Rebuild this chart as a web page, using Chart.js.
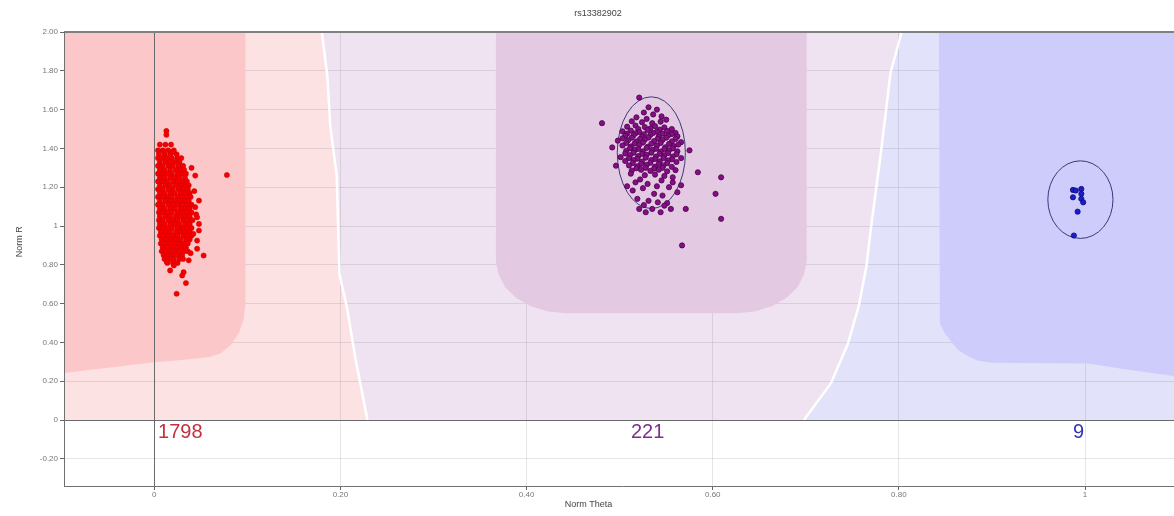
<!DOCTYPE html>
<html>
<head>
<meta charset="utf-8">
<script src="https://cdn.jsdelivr.net/npm/chart.js@4.4.1/dist/chart.umd.min.js"></script>
<style>
  html, body { margin: 0; padding: 0; overflow: hidden; background: #fff; }
  #wrap { width: 1196px; height: 516px; }
</style>
</head>
<body>
<div id="wrap"><canvas id="plot" width="1196" height="516"></canvas></div>
<script>
// ---- SNP cluster plot: rs13382902 ----
const snpName = 'rs13382902';
const xTickValues = [0, 0.2, 0.4, 0.6, 0.8, 1];
const yTickValues = [-0.2, 0, 0.2, 0.4, 0.6, 0.8, 1, 1.2, 1.4, 1.6, 1.8, 2.0];

// genotype call counts and where they are printed (Norm Theta)
const genotypeCounts = [1798, 221, 9];
const countThetas = [0.028, 0.530, 0.993];
const countR = -0.062;

// AA samples, grouped by Norm R row: [R, [Theta...]]
const aaRows = [
  [1.49, [0.013]], [1.47, [0.013]],
  [1.42, [0.006, 0.012, 0.018]],
  [1.39, [0.004, 0.009, 0.015, 0.021]],
  [1.37, [0.005, 0.011, 0.017, 0.024]],
  [1.35, [0.004, 0.009, 0.014, 0.019, 0.025, 0.029]],
  [1.33, [0.006, 0.012, 0.017, 0.022, 0.027]],
  [1.31, [0.004, 0.009, 0.015, 0.020, 0.026, 0.031]],
  [1.29, [0.006, 0.011, 0.017, 0.023, 0.028, 0.032]],
  [1.27, [0.004, 0.009, 0.014, 0.019, 0.025, 0.030, 0.034]],
  [1.25, [0.006, 0.011, 0.017, 0.022, 0.027, 0.033]],
  [1.23, [0.004, 0.009, 0.014, 0.020, 0.025, 0.030, 0.035]],
  [1.21, [0.006, 0.012, 0.017, 0.023, 0.028, 0.033, 0.037]],
  [1.19, [0.004, 0.009, 0.015, 0.020, 0.026, 0.031, 0.036]],
  [1.17, [0.006, 0.011, 0.017, 0.022, 0.028, 0.033, 0.038]],
  [1.15, [0.004, 0.009, 0.014, 0.019, 0.025, 0.030, 0.035, 0.039]],
  [1.13, [0.006, 0.012, 0.017, 0.022, 0.027, 0.032, 0.037]],
  [1.11, [0.004, 0.009, 0.015, 0.020, 0.025, 0.030, 0.035, 0.040]],
  [1.09, [0.006, 0.011, 0.017, 0.022, 0.028, 0.033, 0.038]],
  [1.07, [0.005, 0.009, 0.014, 0.019, 0.025, 0.030, 0.035, 0.040]],
  [1.05, [0.006, 0.012, 0.017, 0.023, 0.028, 0.033, 0.038]],
  [1.03, [0.005, 0.009, 0.015, 0.020, 0.025, 0.031, 0.036, 0.041]],
  [1.01, [0.006, 0.011, 0.017, 0.022, 0.027, 0.033, 0.038]],
  [0.99, [0.005, 0.010, 0.014, 0.019, 0.025, 0.030, 0.035, 0.040]],
  [0.97, [0.007, 0.012, 0.017, 0.023, 0.028, 0.033, 0.038]],
  [0.95, [0.006, 0.010, 0.015, 0.020, 0.025, 0.031, 0.036, 0.040]],
  [0.93, [0.008, 0.013, 0.018, 0.023, 0.028, 0.034, 0.038]],
  [0.91, [0.007, 0.011, 0.016, 0.021, 0.026, 0.031, 0.036]],
  [0.89, [0.009, 0.014, 0.019, 0.024, 0.029, 0.034]],
  [0.87, [0.008, 0.012, 0.017, 0.022, 0.027, 0.032, 0.036]],
  [0.85, [0.010, 0.015, 0.020, 0.025, 0.030]],
  [0.83, [0.011, 0.016, 0.021, 0.027, 0.031]],
  [0.81, [0.014, 0.020, 0.025]]
];
// AA samples lying away from the main row block: [Theta, R]
const aaOutliers = [
  [0.044, 1.260], [0.078, 1.263], [0.048, 1.131], [0.044, 1.097], [0.046, 1.045],
  [0.048, 1.011], [0.048, 0.977], [0.046, 0.925], [0.046, 0.883], [0.053, 0.848],
  [0.037, 0.823], [0.017, 0.771], [0.0315, 0.762], [0.030, 0.745], [0.034, 0.706],
  [0.024, 0.651], [0.021, 0.797], [0.0136, 0.814], [0.010, 1.388], [0.0197, 1.380],
  [0.040, 1.300], [0.043, 1.180], [0.045, 1.060], [0.042, 0.960], [0.039, 0.860]
];

// AB samples: [Theta, R]
const abPoints = [
  [0.521, 1.662], [0.531, 1.612], [0.540, 1.600], [0.526, 1.585], [0.536, 1.575],
  [0.545, 1.565], [0.518, 1.560], [0.529, 1.552], [0.550, 1.548], [0.513, 1.540],
  [0.524, 1.535], [0.535, 1.530], [0.544, 1.538], [0.481, 1.530],
  [0.508, 1.512], [0.517, 1.518], [0.527, 1.510], [0.538, 1.515], [0.548, 1.508], [0.556, 1.500],
  [0.520, 1.500], [0.533, 1.503], [0.543, 1.497],
  [0.503, 1.488], [0.512, 1.492], [0.521, 1.485], [0.530, 1.495], [0.540, 1.487], [0.551, 1.490], [0.560, 1.480],
  [0.508, 1.476], [0.517, 1.478], [0.526, 1.473], [0.536, 1.480], [0.546, 1.476], [0.556, 1.474],
  [0.506, 1.465], [0.515, 1.468], [0.524, 1.460], [0.533, 1.470], [0.542, 1.462], [0.552, 1.466], [0.562, 1.462],
  [0.503, 1.452], [0.513, 1.455], [0.522, 1.449], [0.531, 1.456], [0.541, 1.450], [0.550, 1.455], [0.560, 1.449],
  [0.498, 1.440], [0.509, 1.442], [0.518, 1.436], [0.527, 1.445], [0.537, 1.438], [0.546, 1.444], [0.556, 1.436], [0.566, 1.432],
  [0.507, 1.428], [0.516, 1.425], [0.525, 1.430], [0.534, 1.424], [0.544, 1.428], [0.553, 1.423], [0.563, 1.420],
  [0.492, 1.405], [0.503, 1.415], [0.512, 1.410], [0.521, 1.418], [0.530, 1.408], [0.540, 1.414], [0.549, 1.406], [0.558, 1.412], [0.575, 1.390],
  [0.511, 1.400], [0.520, 1.397], [0.529, 1.402], [0.539, 1.398], [0.548, 1.396], [0.557, 1.400],
  [0.507, 1.388], [0.516, 1.392], [0.525, 1.385], [0.535, 1.392], [0.544, 1.384], [0.553, 1.390], [0.562, 1.385],
  [0.506, 1.374], [0.515, 1.378], [0.524, 1.372], [0.534, 1.378], [0.543, 1.372], [0.552, 1.376], [0.561, 1.370],
  [0.501, 1.355], [0.511, 1.365], [0.520, 1.360], [0.529, 1.367], [0.539, 1.358], [0.548, 1.364], [0.557, 1.358], [0.566, 1.350],
  [0.510, 1.350], [0.519, 1.347], [0.528, 1.352], [0.538, 1.346], [0.547, 1.350], [0.556, 1.344],
  [0.506, 1.335], [0.515, 1.340], [0.524, 1.332], [0.534, 1.340], [0.543, 1.333], [0.552, 1.338], [0.561, 1.330],
  [0.514, 1.324], [0.523, 1.320], [0.533, 1.326], [0.542, 1.320], [0.551, 1.324],
  [0.496, 1.311], [0.510, 1.312], [0.519, 1.308], [0.529, 1.315], [0.538, 1.306], [0.547, 1.312], [0.556, 1.305],
  [0.518, 1.298], [0.528, 1.300], [0.537, 1.296], [0.546, 1.300],
  [0.513, 1.286], [0.523, 1.290], [0.533, 1.284], [0.542, 1.290], [0.551, 1.282], [0.560, 1.288],
  [0.512, 1.270], [0.527, 1.262], [0.538, 1.265], [0.548, 1.258], [0.557, 1.251], [0.584, 1.277],
  [0.609, 1.251], [0.517, 1.225], [0.530, 1.217], [0.557, 1.225], [0.545, 1.235], [0.522, 1.240],
  [0.514, 1.183], [0.537, 1.166], [0.546, 1.157], [0.562, 1.174], [0.519, 1.140], [0.541, 1.122],
  [0.551, 1.118], [0.531, 1.130], [0.603, 1.166], [0.571, 1.088], [0.555, 1.088], [0.544, 1.071],
  [0.535, 1.088], [0.528, 1.071], [0.521, 1.088], [0.609, 1.037], [0.567, 0.900], [0.525, 1.195],
  [0.553, 1.200], [0.540, 1.205], [0.566, 1.210], [0.508, 1.205], [0.548, 1.105], [0.526, 1.108]
];

// BB samples: [Theta, R]
const bbPoints = [
  [0.987, 1.186], [0.990, 1.183], [0.996, 1.191], [0.996, 1.166], [0.987, 1.148],
  [0.996, 1.140], [0.998, 1.122], [0.992, 1.074], [0.988, 0.951]
];

// cluster ellipses: centre and half-widths in Theta / R
const ellipseTheta = [0.534, 0.995];
const ellipseR = [1.378, 1.136];
const ellipseHalfTheta = [0.0366, 0.035];
const ellipseHalfR = [0.288, 0.200];

// call-region boundaries (Theta, R), drawn top to bottom
const aaAbBoundary = [[0.179, 2.1], [0.180, 2.0], [0.186, 1.77], [0.189, 1.52], [0.196, 1.26],
  [0.199, 0.75], [0.207, 0.58], [0.216, 0.32], [0.229, 0.0]];
const abBbBoundary = [[0.806, 2.1], [0.803, 2.0], [0.791, 1.79], [0.781, 1.39], [0.770, 0.99],
  [0.765, 0.79], [0.757, 0.59], [0.745, 0.39], [0.727, 0.19], [0.698, 0.0]];

// high-confidence cores of each call region
const aaCore = [[-0.2, 2.1], [0.098, 2.1], [0.098, 0.60], [0.096, 0.52], [0.091, 0.45], [0.083, 0.39],
  [0.072, 0.345], [0.060, 0.325], [0.030, 0.310], [0.0, 0.298], [-0.05, 0.27], [-0.097, 0.242], [-0.2, 0.2]];
const abCore = [[0.367, 2.1], [0.701, 2.1], [0.701, 0.82], [0.698, 0.75], [0.691, 0.685], [0.679, 0.629],
  [0.6635, 0.586], [0.645, 0.559], [0.626, 0.55], [0.442, 0.55], [0.423, 0.559], [0.4045, 0.586],
  [0.389, 0.629], [0.377, 0.685], [0.370, 0.75], [0.367, 0.82]];
const bbCore = [[0.843, 2.1], [1.2, 2.1], [1.2, 0.2], [1.097, 0.226], [1.043, 0.262], [1.003, 0.292],
  [0.90, 0.295], [0.885, 0.305], [0.874, 0.33], [0.864, 0.36], [0.857, 0.40], [0.849, 0.45], [0.844, 0.50]];

const toXY = p => ({ x: p[0], y: p[1] });
const aaData = aaRows.flatMap(([r, thetas]) => thetas.map(t => ({ x: t, y: r })))
  .concat(aaOutliers.map(toXY));

function tracePath(ctx, xs, ys, pts, close) {
  ctx.beginPath();
  pts.forEach(([t, r], i) => {
    const px = xs.getPixelForValue(t), py = ys.getPixelForValue(r);
    if (i === 0) ctx.moveTo(px, py); else ctx.lineTo(px, py);
  });
  if (close) ctx.closePath();
}

const regionPlugin = {
  id: 'callRegions',
  beforeDraw(chart) {
    const { ctx, chartArea: a, scales: { x, y } } = chart;
    ctx.save();
    ctx.beginPath();
    ctx.rect(a.left, a.top, a.right - a.left, y.getPixelForValue(0) - a.top);
    ctx.clip();
    const aaLight = [[-0.2, 0], [-0.2, 2.1]].concat(aaAbBoundary);
    const abLight = aaAbBoundary.concat(abBbBoundary.slice().reverse());
    const bbLight = abBbBoundary.concat([[1.2, 0], [1.2, 2.1]]);
    [[aaLight, '#fde2e4'], [abLight, '#f0e3f1'], [bbLight, '#e2e2fb']].forEach(([pts, col]) => {
      tracePath(ctx, x, y, pts, true);
      ctx.fillStyle = col;
      ctx.fill();
    });
    ctx.restore();
  },
  beforeDatasetsDraw(chart) {
    const { ctx, chartArea: a, scales: { x, y } } = chart;
    ctx.save();
    ctx.beginPath();
    ctx.rect(a.left, a.top, a.right - a.left, y.getPixelForValue(0) - a.top);
    ctx.clip();
    [[aaCore, '#fcc7c9'], [abCore, '#e3c9e2'], [bbCore, '#cdccfa']].forEach(([pts, col]) => {
      tracePath(ctx, x, y, pts, true);
      ctx.fillStyle = col;
      ctx.fill();
    });
    ctx.strokeStyle = '#ffffff';
    ctx.lineWidth = 2.5;
    [aaAbBoundary, abBbBoundary].forEach(pts => {
      tracePath(ctx, x, y, pts, false);
      ctx.stroke();
    });
    ctx.restore();

    // frame and zero lines
    ctx.save();
    ctx.strokeStyle = '#6a6a6a';
    ctx.lineWidth = 1;
    const x0 = Math.round(x.getPixelForValue(0)) + 0.5;
    const y0 = Math.round(y.getPixelForValue(0)) + 0.5;
    ctx.beginPath();
    ctx.moveTo(x0, a.top); ctx.lineTo(x0, a.bottom);
    ctx.moveTo(a.left, y0); ctx.lineTo(a.right, y0);
    ctx.stroke();
    ctx.strokeStyle = '#808080';
    ctx.lineWidth = 2;
    ctx.beginPath();
    ctx.moveTo(a.left, a.top); ctx.lineTo(a.right, a.top);
    ctx.stroke();
    ctx.lineWidth = 1;
    ctx.strokeStyle = '#707070';
    ctx.beginPath();
    ctx.moveTo(a.left + 0.5, a.top); ctx.lineTo(a.left + 0.5, a.bottom);
    ctx.stroke();

    // cluster ellipses
    ctx.strokeStyle = '#3b3a7a';
    ctx.lineWidth = 1;
    ellipseTheta.forEach((t, i) => {
      const cx = x.getPixelForValue(t), cy = y.getPixelForValue(ellipseR[i]);
      const rx = x.getPixelForValue(t + ellipseHalfTheta[i]) - cx;
      const ry = cy - y.getPixelForValue(ellipseR[i] + ellipseHalfR[i]);
      ctx.beginPath();
      ctx.ellipse(cx, cy, rx, ry, 0, 0, Math.PI * 2);
      ctx.stroke();
    });
    ctx.restore();
  },
  afterDraw(chart) {
    const { ctx, chartArea: a, scales: { x, y } } = chart;
    ctx.save();
    // genotype counts
    const countColors = ['#c4303e', '#7d2f8c', '#3434b4'];
    ctx.font = '20px "Liberation Sans", Arial, sans-serif';
    ctx.textAlign = 'center';
    ctx.textBaseline = 'middle';
    genotypeCounts.forEach((n, i) => {
      ctx.fillStyle = countColors[i];
      ctx.fillText(String(n), x.getPixelForValue(countThetas[i]), y.getPixelForValue(countR));
    });
    // title and axis titles
    ctx.fillStyle = '#444';
    ctx.font = '9px "Liberation Sans", Arial, sans-serif';
    ctx.fillText(snpName, chart.width / 2, 14);
    ctx.fillText('Norm Theta', a.left + (a.right - a.left) * 0.47, 505);
    ctx.translate(20, a.top + (a.bottom - a.top) * 0.462);
    ctx.rotate(-Math.PI / 2);
    ctx.fillText('Norm R', 0, 0);
    ctx.restore();
  }
};

const gridColor = 'rgba(110,110,130,0.18)';
const fmtTick = v => (v === 0 ? '0' : v === 1 ? '1' : Number(v).toFixed(2));

new Chart(document.getElementById('plot'), {
  type: 'scatter',
  data: {
    datasets: [
      { label: 'BB', data: bbPoints.map(toXY), backgroundColor: '#1d1dcc', borderColor: '#0b0b7a',
        borderWidth: 0.8, pointRadius: 2.6 },
      { label: 'AB', data: abPoints.map(toXY), backgroundColor: '#840f84', borderColor: '#4d004d',
        borderWidth: 0.8, pointRadius: 2.6 },
      { label: 'AA', data: aaData, backgroundColor: '#f40000', borderColor: '#cc0000',
        borderWidth: 0.5, pointRadius: 2.6 }
    ]
  },
  options: {
    responsive: false,
    animation: false,
    devicePixelRatio: 1,
    layout: { padding: { top: 32, right: 16, left: 0, bottom: 0 } },
    plugins: { legend: { display: false }, tooltip: { enabled: false }, title: { display: false } },
    scales: {
      x: {
        type: 'linear', min: -0.097, max: 1.102,
        afterBuildTicks: s => { s.ticks = xTickValues.map(v => ({ value: v })); },
        afterFit: s => { s.height = 30; },
        ticks: { callback: fmtTick, color: '#777', font: { size: 8, family: '"Liberation Sans", Arial, sans-serif' },
          padding: 0, maxRotation: 0, autoSkip: false },
        grid: { color: c => (c.tick && c.tick.value === 0 ? 'rgba(0,0,0,0)' : gridColor),
          tickColor: '#666', tickLength: 4, drawTicks: true },
        border: { color: '#707070', width: 1 }
      },
      y: {
        type: 'linear', min: -0.34, max: 2.0,
        afterBuildTicks: s => { s.ticks = yTickValues.map(v => ({ value: v })); },
        afterFit: s => { s.width = 64; },
        ticks: { callback: fmtTick, color: '#777', font: { size: 8, family: '"Liberation Sans", Arial, sans-serif' },
          padding: 2, autoSkip: false },
        grid: { color: c => (c.tick && c.tick.value === 0 ? 'rgba(0,0,0,0)' : gridColor),
          tickColor: '#666', tickLength: 4, drawTicks: true },
        border: { color: '#707070', width: 1 }
      }
    }
  },
  plugins: [regionPlugin]
});
</script>
</body>
</html>
